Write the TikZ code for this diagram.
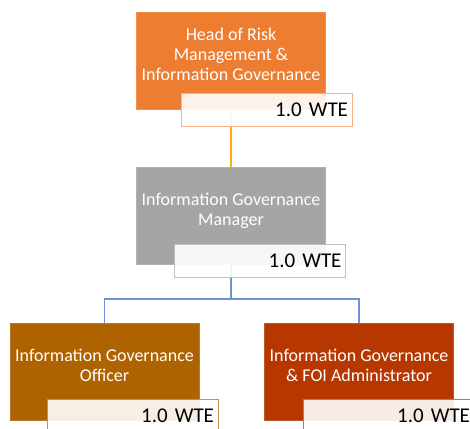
\documentclass[tikz,border=0pt]{standalone}
\usepackage{fontspec}
\setmainfont{Carlito}
\usepackage{tikz}
\newcommand{\boxW}{189pt}
\newcommand{\boxH}{97pt}
\definecolor{headOrange}{HTML}{ED7D31}
\definecolor{mgrGrey}{HTML}{A5A5A5}
\definecolor{offBrown}{HTML}{AF6300}
\definecolor{admRust}{HTML}{B63800}
\definecolor{lineGold}{HTML}{FFB000}
\definecolor{lineBlue}{HTML}{6F93D6}
\tikzset{
  post/.style={fill=#1, draw=#1!85!white, text=white, align=center,
    minimum width=\boxW, minimum height=\boxH, text depth=14pt,
    inner sep=0pt, font=\fontsize{18}{20}\selectfont},
  wte/.style={draw=#1, fill=white, fill opacity=0.9, text opacity=1,
    text=black, text width=163pt, align=right, inner xsep=4pt,
    minimum height=33pt, inner ysep=0pt, line width=0.9pt,
    font=\fontsize{21}{23}\selectfont}
}

\begin{document}
\begin{tikzpicture}[x=1pt,y=-1pt]
\useasboundingbox (0,0) rectangle (470,428);
\node[post=headOrange] (head) at (231,61) {Head of Risk\\Management \&\\Information Governance};
\node[post=mgrGrey] (mgr) at (231,216) {Information Governance\\Manager};
\node[post=offBrown] (off) at (104.5,372) {Information Governance\\Officer};
\node[post=admRust] (adm) at (359,372) {Information Governance\\\& FOI Administrator};
\coordinate (bus) at (231,299);
\draw[draw=lineGold,line width=1.2pt] (head) -- (mgr);
\draw[draw=lineBlue,line width=1.2pt] (mgr.south) -- (bus) -| (off.north);
\draw[draw=lineBlue,line width=1.2pt] (bus) -| (adm.north);
\node[wte=headOrange!60!white] (headwte) at (266.5,109.5) {1.0 WTE};
\node[wte=mgrGrey!70!white] (mgrwte) at (260,260.5) {1.0 WTE};
\node[wte=offBrown!70!white] (offwte) at (132.5,415.5) {1.0 WTE};
\node[wte=admRust!70!white] (admwte) at (388.5,415.5) {1.0 WTE};
\end{tikzpicture}
\end{document}
